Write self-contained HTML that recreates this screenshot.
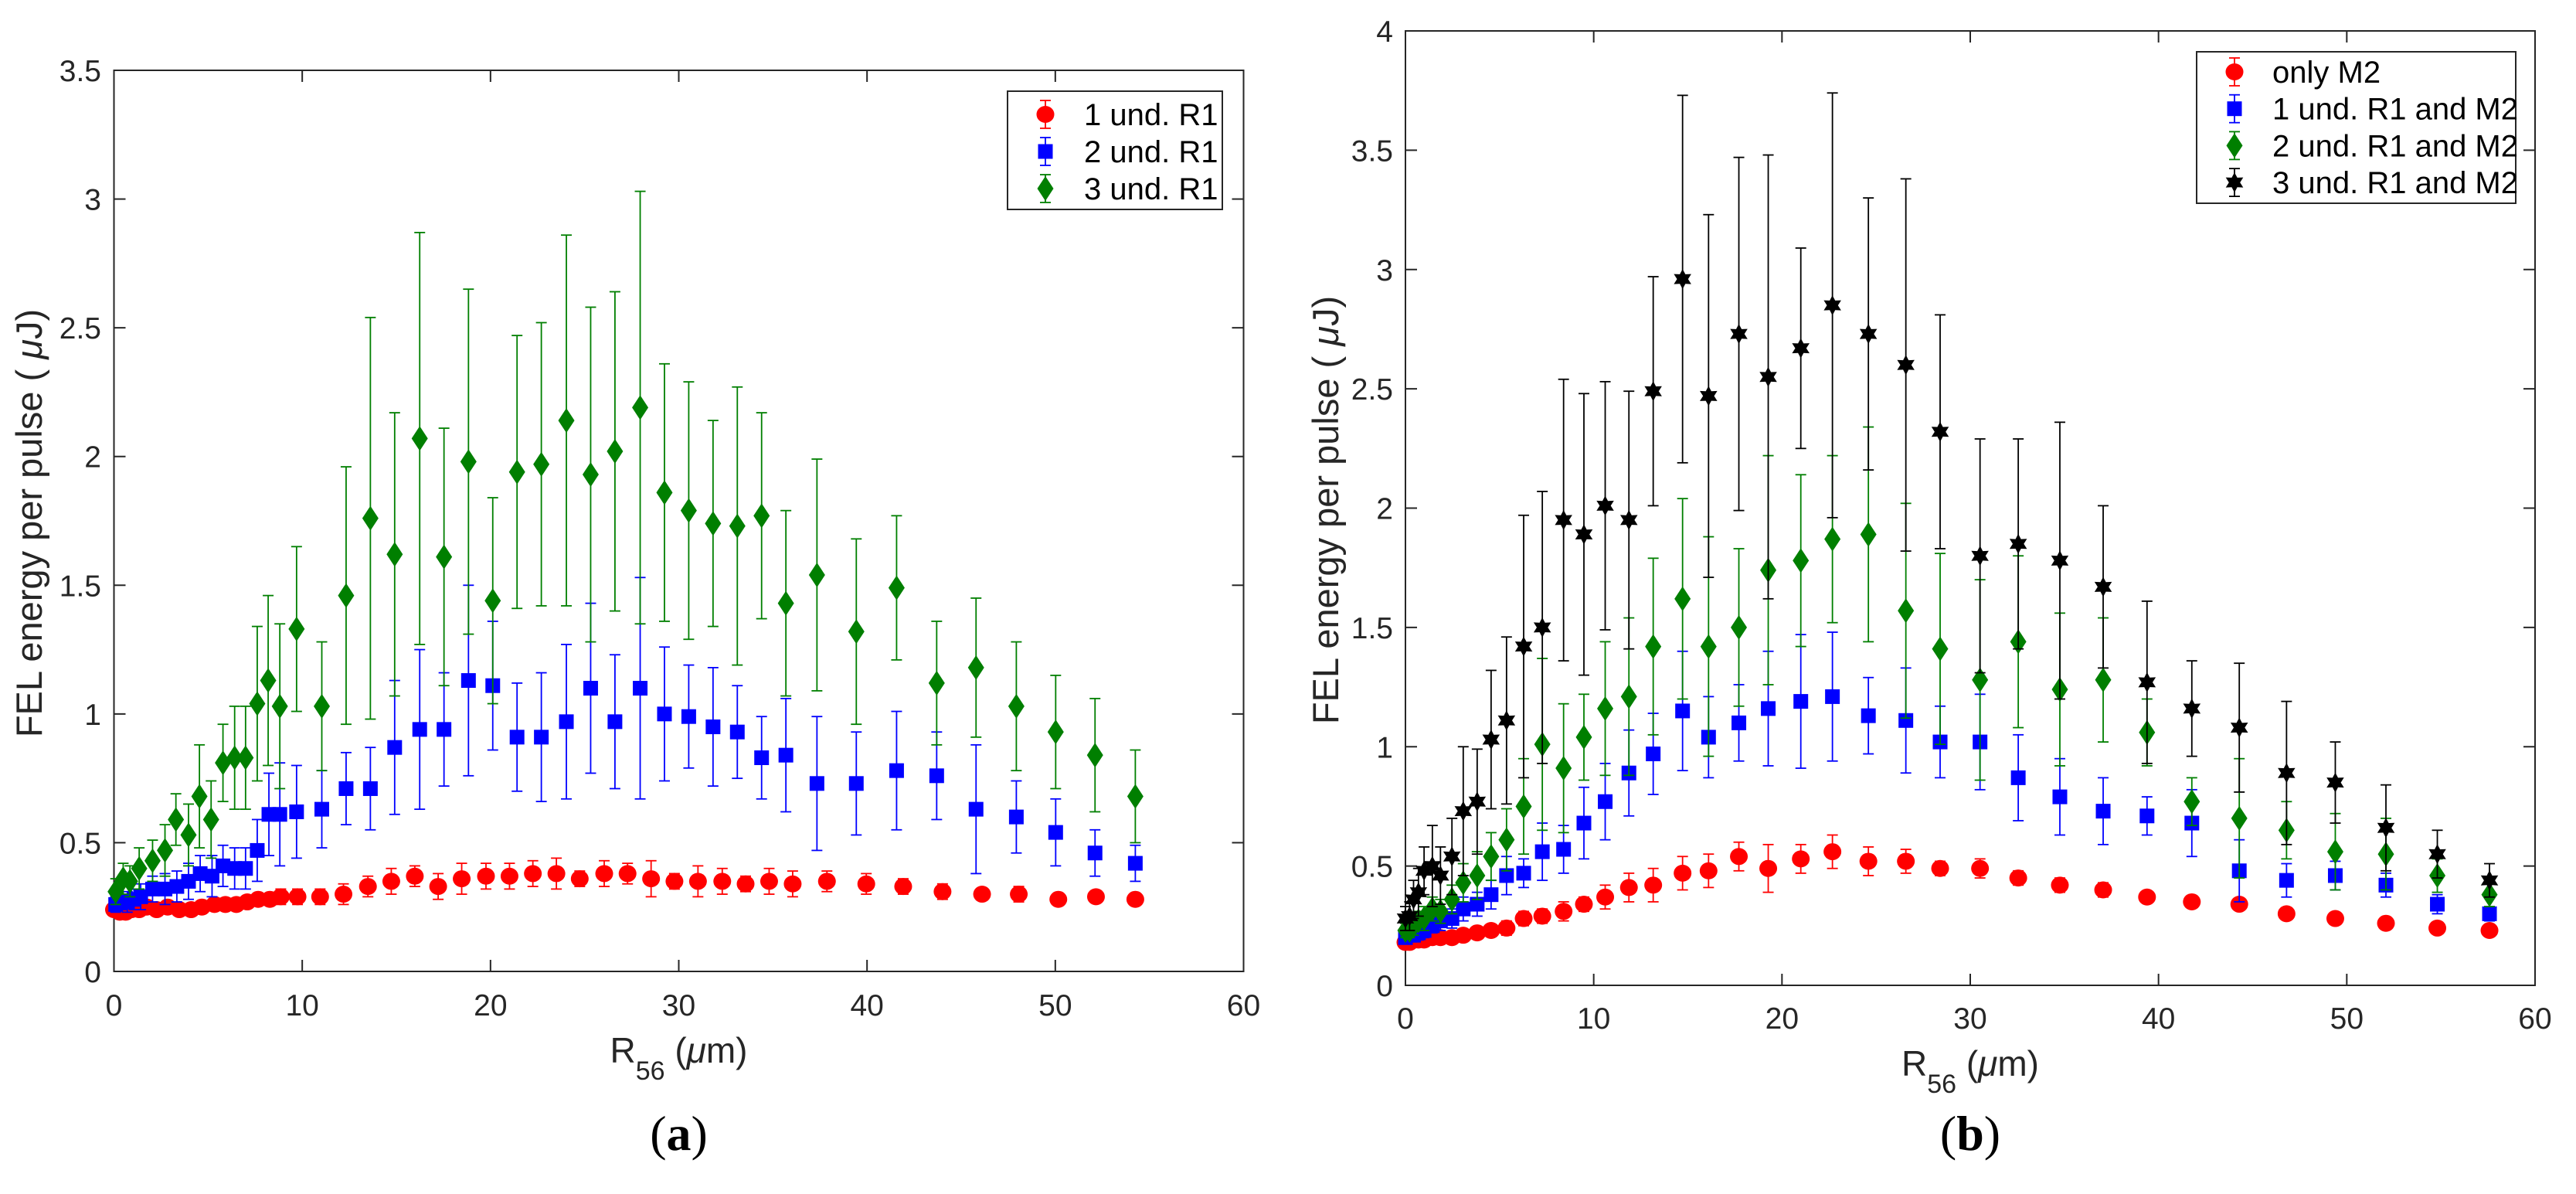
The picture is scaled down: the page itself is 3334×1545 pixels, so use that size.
<!DOCTYPE html>
<html><head><meta charset="utf-8"><style>
body{margin:0;background:#fff}
svg{display:block;font-family:"Liberation Sans",sans-serif}
</style></head><body>
<svg id="fig" width="3334" height="1545" viewBox="0 0 3334 1545" xmlns="http://www.w3.org/2000/svg">
<g id="pa"></g>
<g id="pb"></g>
</svg>
<script>
// ---------- Panel (a) data ----------
const aRedX=[0,0.31,0.62,0.93,1.34,1.74,2.27,2.85,3.47,4.10,4.67,5.34,5.92,6.50,7.08,7.66,8.28,8.86,9.75,10.95,12.19,13.49,14.73,15.98,17.22,18.47,19.76,21.01,22.25,23.50,24.74,26.04,27.28,28.53,29.77,31.02,32.31,33.55,34.80,36.05,37.87,39.96,41.92,44.01,46.11,48.06,50.16,52.16,54.25];
const aRedY=[0.24,0.23,0.23,0.24,0.24,0.25,0.24,0.25,0.24,0.24,0.25,0.26,0.26,0.26,0.27,0.28,0.28,0.29,0.29,0.29,0.30,0.33,0.35,0.37,0.33,0.36,0.37,0.37,0.38,0.38,0.36,0.38,0.38,0.36,0.35,0.35,0.35,0.34,0.35,0.34,0.35,0.34,0.33,0.31,0.30,0.30,0.28,0.29,0.28];
const aRedE=[0.02,0.02,0.02,0.02,0.02,0.02,0.02,0.02,0.02,0.02,0.02,0.02,0.02,0.02,0.02,0.02,0.02,0.03,0.03,0.03,0.04,0.04,0.05,0.04,0.05,0.06,0.05,0.05,0.05,0.06,0.03,0.05,0.04,0.07,0.03,0.06,0.05,0.03,0.05,0.05,0.04,0.04,0.03,0.03,0.02,0.03,0.02,0.02,0.02];
const aSqX=[0.09,0.40,0.71,1.07,1.42,2.05,2.71,3.34,3.96,4.58,5.21,5.79,6.41,6.99,7.61,8.23,8.81,9.70,11.04,12.33,13.62,14.91,16.24,17.53,18.83,20.12,21.41,22.70,24.03,25.32,26.61,27.95,29.24,30.53,31.82,33.11,34.40,35.69,37.34,39.43,41.57,43.70,45.79,47.93,50.02,52.11,54.25];
const aBlueY=[0.26,0.27,0.27,0.28,0.29,0.32,0.32,0.33,0.35,0.38,0.37,0.41,0.40,0.40,0.47,0.61,0.61,0.62,0.63,0.71,0.71,0.87,0.94,0.94,1.13,1.11,0.91,0.91,0.97,1.10,0.97,1.10,1.00,0.99,0.95,0.93,0.83,0.84,0.73,0.73,0.78,0.76,0.63,0.60,0.54,0.46,0.42];
const aBlueE=[0.03,0.03,0.04,0.04,0.05,0.05,0.06,0.06,0.07,0.07,0.08,0.08,0.08,0.08,0.12,0.16,0.2,0.18,0.15,0.14,0.16,0.26,0.31,0.22,0.37,0.25,0.21,0.25,0.3,0.33,0.26,0.43,0.26,0.2,0.23,0.18,0.16,0.22,0.26,0.2,0.23,0.17,0.25,0.14,0.13,0.09,0.07];
const aGreenX=[0.09,0.49,0.85,1.34,2.05,2.71,3.29,3.96,4.54,5.16,5.79,6.41,6.99,7.61,8.19,8.81,9.70,11.04,12.33,13.62,14.91,16.24,17.53,18.83,20.12,21.41,22.70,24.03,25.32,26.61,27.95,29.24,30.53,31.82,33.11,34.40,35.69,37.34,39.43,41.57,43.70,45.79,47.93,50.02,52.11,54.25];
const aGreenY=[0.31,0.36,0.35,0.40,0.43,0.47,0.59,0.53,0.68,0.59,0.81,0.83,0.83,1.04,1.13,1.03,1.33,1.03,1.46,1.76,1.62,2.07,1.61,1.98,1.44,1.94,1.97,2.14,1.93,2.02,2.19,1.86,1.79,1.74,1.73,1.77,1.43,1.54,1.32,1.49,1.12,1.18,1.03,0.93,0.84,0.68];
const aGreenE=[0.05,0.06,0.06,0.08,0.08,0.1,0.1,0.12,0.2,0.15,0.15,0.2,0.2,0.3,0.33,0.32,0.32,0.25,0.5,0.78,0.55,0.8,0.5,0.67,0.4,0.53,0.55,0.72,0.65,0.62,0.84,0.5,0.5,0.4,0.54,0.4,0.36,0.45,0.36,0.28,0.24,0.27,0.25,0.22,0.22,0.18];
// ---------- Panel (b) data ----------
const bX=[0,0.22,0.43,0.69,0.99,1.43,1.86,2.47,3.07,3.81,4.55,5.37,6.28,7.27,8.40,9.48,10.61,11.87,13.16,14.72,16.10,17.71,19.27,21.00,22.68,24.59,26.58,28.40,30.52,32.55,34.76,37.06,39.39,41.77,44.29,46.80,49.39,52.08,54.81,57.58];
const bRedY=[0.18,0.18,0.19,0.19,0.19,0.20,0.20,0.20,0.21,0.22,0.23,0.24,0.28,0.29,0.31,0.34,0.37,0.41,0.42,0.47,0.48,0.54,0.49,0.53,0.56,0.52,0.52,0.49,0.49,0.45,0.42,0.40,0.37,0.35,0.34,0.30,0.28,0.26,0.24,0.23];
const bRedE=[0.01,0.01,0.01,0.01,0.01,0.02,0.02,0.02,0.02,0.02,0.02,0.03,0.03,0.03,0.04,0.03,0.05,0.06,0.07,0.07,0.07,0.06,0.1,0.06,0.07,0.06,0.05,0.03,0.04,0.03,0.03,0.03,0.02,0.02,0.02,0.02,0.02,0.02,0.02,0.02];
const bBlueY=[0.20,0.21,0.21,0.22,0.23,0.25,0.27,0.28,0.32,0.34,0.38,0.46,0.47,0.56,0.57,0.68,0.77,0.89,0.97,1.15,1.04,1.10,1.16,1.19,1.21,1.13,1.11,1.02,1.02,0.87,0.79,0.73,0.71,0.68,0.48,0.44,0.46,0.42,0.34,0.30];
const bBlueE=[0.02,0.02,0.02,0.03,0.03,0.03,0.04,0.04,0.05,0.05,0.06,0.08,0.06,0.12,0.1,0.15,0.16,0.18,0.17,0.25,0.17,0.16,0.24,0.28,0.27,0.16,0.22,0.15,0.2,0.18,0.16,0.14,0.08,0.14,0.13,0.07,0.06,0.05,0.04,0.03];
const bGreenY=[0.23,0.23,0.25,0.27,0.28,0.32,0.31,0.36,0.43,0.46,0.54,0.61,0.75,1.01,0.91,1.04,1.16,1.21,1.42,1.62,1.42,1.50,1.74,1.78,1.87,1.89,1.57,1.41,1.28,1.44,1.24,1.28,1.06,0.77,0.70,0.65,0.56,0.55,0.46,0.38];
const bGreenE=[0.03,0.03,0.04,0.04,0.05,0.05,0.05,0.06,0.08,0.1,0.1,0.13,0.2,0.36,0.27,0.18,0.28,0.33,0.37,0.42,0.46,0.33,0.48,0.36,0.35,0.45,0.45,0.4,0.42,0.36,0.32,0.26,0.14,0.1,0.25,0.12,0.16,0.15,0.07,0.05];
const bBlackY=[0.28,0.29,0.36,0.39,0.48,0.50,0.46,0.54,0.73,0.77,1.03,1.11,1.42,1.50,1.95,1.89,2.01,1.95,2.49,2.96,2.47,2.73,2.55,2.67,2.85,2.73,2.60,2.32,1.80,1.85,1.78,1.67,1.27,1.16,1.08,0.89,0.85,0.66,0.55,0.44];
const bBlackE=[0.05,0.06,0.08,0.1,0.1,0.17,0.12,0.16,0.27,0.22,0.29,0.35,0.55,0.57,0.59,0.59,0.52,0.54,0.48,0.77,0.76,0.74,0.93,0.42,0.89,0.57,0.78,0.49,0.49,0.44,0.58,0.34,0.34,0.2,0.27,0.3,0.17,0.18,0.1,0.07];
const xTicks=[0,10,20,30,40,50,60];
const aYTicks=[0,0.5,1,1.5,2,2.5,3,3.5];
const bYTicks=[0,0.5,1,1.5,2,2.5,3,3.5,4];
const aLegend=["1 und. R1","2 und. R1","3 und. R1"];
const bLegend=["only M2","1 und. R1 and M2","2 und. R1 and M2","3 und. R1 and M2"];

const NS="http://www.w3.org/2000/svg";
function mk(parent,tag,attrs){const e=document.createElementNS(NS,tag);for(const k in attrs)e.setAttribute(k,attrs[k]);parent.appendChild(e);return e;}
const COL={red:"#ff0000",blue:"#0000ff",green:"#007f00",black:"#000000"};

function marker(g,type,cx,cy,color){
  let m;
  if(type==="circle"){m=mk(g,"ellipse",{cx:cx,cy:cy,rx:11.5,ry:11,fill:color});}
  else if(type==="square"){m=mk(g,"rect",{x:cx-9.5,y:cy-9.5,width:19,height:19,fill:color});}
  else if(type==="diamond"){m=mk(g,"polygon",{points:`${cx},${cy-16} ${cx+10.5},${cy} ${cx},${cy+16} ${cx-10.5},${cy}`,fill:color});}
  else {const r=13,r2=r*0.55;let p=[];for(let i=0;i<12;i++){const a=Math.PI/6*i-Math.PI/2;const rr=i%2?r2:r;p.push((cx+rr*Math.cos(a)).toFixed(1)+","+(cy+rr*Math.sin(a)).toFixed(1));}
    m=mk(g,"polygon",{points:p.join(" "),fill:color});}
  return m;
}
function errbar(g,x,y1,y2,color){
  mk(g,"line",{x1:x,y1:y1,x2:x,y2:y2,stroke:color,"stroke-width":1.8});
  mk(g,"line",{x1:x-7,y1:y1,x2:x+7,y2:y1,stroke:color,"stroke-width":1.8});
  mk(g,"line",{x1:x-7,y1:y2,x2:x+7,y2:y2,stroke:color,"stroke-width":1.8});
}

function panel(root,cfg){
  const {L,R,T,B,ymax,yTicks,series,legend,leg,ylabX,ylabY,tickLabR,xtY,xlabY,tag,tagY}=cfg;
  const sx=v=>L+(v/60)*(R-L);
  const sy=v=>B-(v/ymax)*(B-T);
  const ax=mk(root,"g",{});
  
  
  mk(ax,"rect",{x:L,y:T,width:R-L,height:B-T,fill:"none",stroke:"#262626","stroke-width":2});
  xTicks.forEach(t=>{
    const x=sx(t);
    mk(ax,"line",{x1:x,y1:B,x2:x,y2:B-15,stroke:"#262626","stroke-width":2});
    mk(ax,"line",{x1:x,y1:T,x2:x,y2:T+15,stroke:"#262626","stroke-width":2});
    const tx=mk(ax,"text",{x:x,y:xtY,"font-size":39,"text-anchor":"middle",fill:"#262626"});
    tx.textContent=t;
    
    
  });
  yTicks.forEach(t=>{
    const y=sy(t);
    mk(ax,"line",{x1:L,y1:y,x2:L+15,y2:y,stroke:"#262626","stroke-width":2});
    mk(ax,"line",{x1:R,y1:y,x2:R-15,y2:y,stroke:"#262626","stroke-width":2});
    const tx=mk(ax,"text",{x:tickLabR,y:y+14,"font-size":39,"text-anchor":"end",fill:"#262626"});
    tx.textContent=t;
    
    
  });
  const yl=mk(root,"text",{x:ylabX,y:ylabY,"font-size":47,"text-anchor":"middle",fill:"#262626",transform:`rotate(-90 ${ylabX} ${ylabY})`});
  yl.innerHTML='FEL energy per pulse ( <tspan font-style="italic">μ</tspan>J)';
  
  
  const xl=mk(root,"text",{x:(L+R)/2,y:xlabY,"font-size":46,"text-anchor":"middle",fill:"#262626"});
  xl.innerHTML='R<tspan font-size="34" dy="22">56</tspan><tspan dy="-22"> (</tspan><tspan font-style="italic">μ</tspan>m)';
  
  
  const tg=mk(root,"text",{x:(L+R)/2,y:tagY,"font-size":64,"text-anchor":"middle",fill:"#000","font-family":"Liberation Serif, serif"});
  tg.innerHTML='(<tspan font-weight="bold">'+tag+'</tspan>)';
  
  
  series.forEach(s=>{
    const g=mk(root,"g",{});
    
    
    s.x.forEach((xv,i)=>{
      const x=sx(xv);
      errbar(g,x,sy(s.y[i]+s.e[i]),sy(Math.max(0,s.y[i]-s.e[i])),s.color);
    });
    s.x.forEach((xv,i)=>{
      const m=marker(g,s.type,sx(xv),sy(s.y[i]),s.color);
      
      
    });
  });
  const lg=mk(root,"g",{});
  
  
  mk(lg,"rect",{x:leg.x,y:leg.y,width:leg.w,height:leg.h,fill:"#fff",stroke:"#262626","stroke-width":2});
  series.forEach((s,i)=>{
    const y=leg.y0+i*leg.dy;
    const e=mk(lg,"g",{});
    
    
    errbar(e,leg.mx,y-18,y+18,s.color);
    marker(e,s.type,leg.mx,y,s.color);
    const t=mk(e,"text",{x:leg.tx,y:y+14,"font-size":40,fill:"#000"});
    t.textContent=legend[i];
  });
}

panel(document.getElementById("pa"),{L:147.5,R:1609.5,T:91,B:1257,ymax:3.5,yTicks:aYTicks,
  series:[{name:"1-und-r1",x:aRedX,y:aRedY,e:aRedE,color:COL.red,type:"circle"},
          {name:"2-und-r1",x:aSqX,y:aBlueY,e:aBlueE,color:COL.blue,type:"square"},
          {name:"3-und-r1",x:aGreenX,y:aGreenY,e:aGreenE,color:COL.green,type:"diamond"}],
  legend:aLegend,leg:{x:1304,y:118,w:278,h:153,y0:148,dy:48,mx:1353,tx:1403},
  ylabX:54,ylabY:677,tickLabR:131,xtY:1314,xlabY:1375,tag:"a",tagY:1488});

panel(document.getElementById("pb"),{L:1819,R:3281,T:40,B:1275,ymax:4,yTicks:bYTicks,
  series:[{name:"only-m2",x:bX,y:bRedY,e:bRedE,color:COL.red,type:"circle"},
          {name:"1-und-r1-m2",x:bX,y:bBlueY,e:bBlueE,color:COL.blue,type:"square"},
          {name:"2-und-r1-m2",x:bX,y:bGreenY,e:bGreenE,color:COL.green,type:"diamond"},
          {name:"3-und-r1-m2",x:bX,y:bBlackY,e:bBlackE,color:COL.black,type:"star"}],
  legend:bLegend,leg:{x:2843,y:67,w:413,h:196,y0:93,dy:47.7,mx:2892,tx:2941},
  ylabX:1732,ylabY:660,tickLabR:1803,xtY:1331,xlabY:1392,tag:"b",tagY:1488});
</script>
</body></html>
